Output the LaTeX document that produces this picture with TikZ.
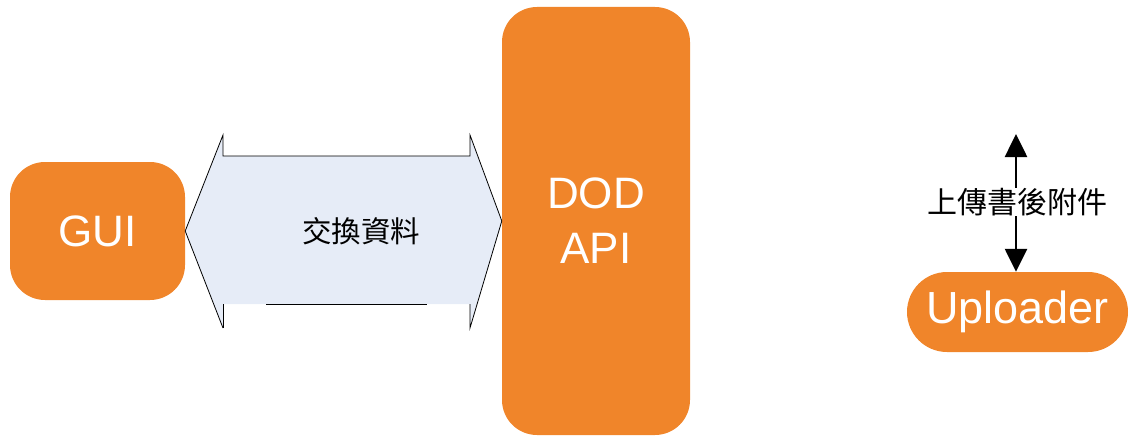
\documentclass[tikz,border=0pt]{standalone}
\usepackage{fontspec}
\usetikzlibrary{arrows.meta}
\setmainfont{Liberation Sans}
\newfontfamily\cjk{Noto Sans CJK TC}
\definecolor{boxorange}{HTML}{F0852A}
\definecolor{flowblue}{HTML}{E6ECF7}
\begin{document}
\begin{tikzpicture}[x=1pt,y=-1pt,
  block/.style={fill=boxorange,draw=none,text=white,inner sep=0pt,
    rounded corners=35pt,font=\fontsize{44}{55}\selectfont,align=center},
  cjklabel/.style={inner sep=0pt,font=\cjk\fontsize{29.5}{32}\selectfont},
  outline/.style={draw=black,line width=0.8pt},
  flow/.style={draw=black,line width=2.6pt,-{Triangle[width=22pt,length=23pt]}}]
\useasboundingbox (0,0) rectangle (1133,436);

% main blocks
\node[block,minimum width=175pt,minimum height=138pt] (gui) at (97.5,231) {GUI};
\node[block,minimum width=188pt,minimum height=428pt] (api) at (596,221) {DOD\\API};
\node[block,minimum width=221pt,minimum height=80pt,rounded corners=40pt,
  font=\fontsize{45}{50}\selectfont] (up) at (1017.5,312) {Uploader};

% double arrow between GUI and the API
\coordinate (lt) at (gui.east);
\coordinate (rt) at (api.west);
\coordinate (tl) at (223,135);
\coordinate (sl) at (223,156);
\coordinate (bl) at (223,304);
\coordinate (ql) at (223,328);
\coordinate (tr) at (470,135);
\coordinate (sr) at (470,156);
\coordinate (br) at (470,304);
\coordinate (qr) at (470,328);
\fill[flowblue] (lt) -- (tl) -- (sl) -- (sr) -- (tr) -- (rt) -- (qr) -- (br)
  -- (bl) -- (ql) -- cycle;
\draw[outline] (ql) -- (lt) -- (tl) -- (sl) -- (sr) -- (tr) -- (rt) -- (qr) -- (br);
\draw[outline] (bl) -- (ql);
\draw[outline] (266,304) -- (427,304);
\node[cjklabel] (xchg) at (361,231) {交換資料};

% upload label with its two arrows
\node[cjklabel,font=\cjk\fontsize{30}{32}\selectfont] (ul) at (1017,202) {上傳書後附件};
\coordinate (upend) at (1016,134);
\draw[flow] (ul.north -| upend) -- (upend);
\draw[flow] (ul.south -| upend) -- (up.north -| upend);
\end{tikzpicture}
\end{document}
